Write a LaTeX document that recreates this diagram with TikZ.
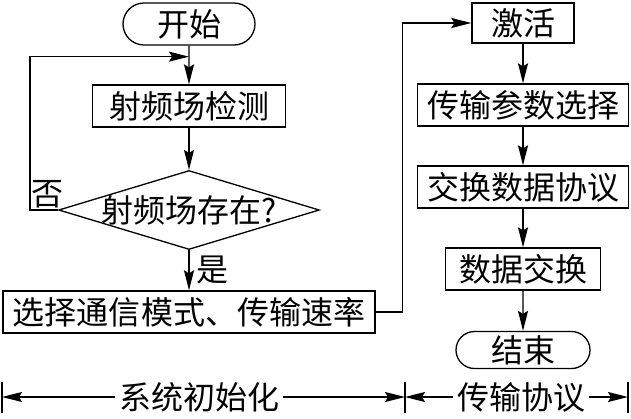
\documentclass[tikz,border=0pt]{standalone}
\usepackage{fontspec}
\setmainfont{Noto Sans CJK SC}
\usetikzlibrary{positioning,shapes.geometric,shapes.misc,arrows.meta}

\tikzset{
  stepbox/.style={draw, line width=1.3bp, minimum height=42bp, inner sep=2bp},
  term/.style={rounded rectangle, draw, line width=1.3bp, minimum height=42bp, inner sep=2bp},
  decide/.style={diamond, draw, line width=1.3bp, aspect=3.3, inner xsep=-6bp, inner ysep=0pt},
  flow/.style={line width=1.3bp, -{Stealth[length=20bp,width=10bp,inset=3bp]}},
  lbl/.style={inner sep=1bp},
}

\begin{document}
\begin{tikzpicture}[x=1bp, y=1bp, on grid, font=\fontsize{32bp}{34bp}\selectfont]
  \useasboundingbox (0,0) rectangle (631,-418);
  % left column
  \node[term, minimum width=136bp] (start) at (189,-24) {开始};
  \node[stepbox, minimum width=193bp] (detect) [below=82bp of start] {射频场检测};
  \node[decide] (exists) [below=104bp of detect] {射频场存在?};
  \node[stepbox, minimum width=372bp] (select) [below=102bp of exists] {选择通信模式、传输速率};
  % right column
  \node[stepbox, minimum width=102bp, minimum height=40bp] (activate) at (523,-23) {激活};
  \node[stepbox, minimum width=211bp] (params) [below=82bp of activate] {传输参数选择};
  \node[stepbox, minimum width=211bp] (proto) [below=82bp of params] {交换数据协议};
  \node[stepbox, minimum width=155bp] (xchg) [below=82bp of proto] {数据交换};
  \node[term, minimum width=138bp, minimum height=37bp] (stop) [below=81bp of xchg] {结束};

  \coordinate (j) at ([yshift=-11bp]start.south);
  \draw[flow] (start) -- (detect);
  \draw[flow] (detect) -- (exists);
  \draw[flow] (exists.west) -- ++(-28,0) node[lbl, above right] {否} |- (j);
  \draw[flow] (exists.south) -- node[lbl, right=6bp] {是} (select);
  \draw[flow] (select.east) -- ++(27,0) |- (activate);
  \draw[flow] (activate) -- (params);
  \draw[flow] (params) -- (proto);
  \draw[flow] (proto) -- (xchg);
  \draw[flow] (xchg) -- (stop);

  % phases
  \coordinate (b0) at (2,-397);
  \coordinate (b1) at (405,-397);
  \coordinate (b2) at (628,-397);
  \node[inner sep=4bp] (init) at (199,-397) {系统初始化};
  \node[inner sep=4bp] (trans) at (521,-397) {传输协议};
  \draw[flow] (init) -- (b0);
  \draw[flow] (init) -- (b1);
  \draw[flow] (trans) -- (b1);
  \draw[flow] (trans) -- (b2);
  \foreach \t in {b0,b1,b2}
    \draw[line width=1.3bp] ([yshift=15bp]\t) -- ([yshift=-16bp]\t);
\end{tikzpicture}
\end{document}
